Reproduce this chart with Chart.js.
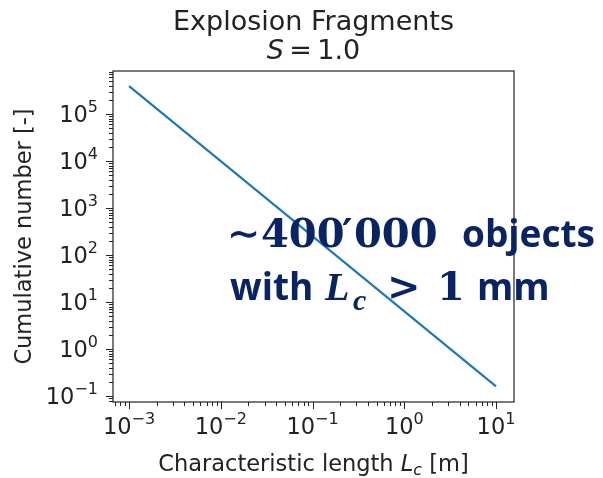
<!DOCTYPE html>
<html>
<head>
<meta charset="utf-8">
<script src="https://cdn.jsdelivr.net/npm/chart.js@4.4.1/dist/chart.umd.min.js"></script>
<style>
  html, body { margin: 0; padding: 0; background: #fff; }
  canvas { display: block; }
</style>
</head>
<body>
<canvas id="chart" width="603" height="478"></canvas>
<script>
// values
const lengths = [1e-3, 10];          // characteristic length Lc [m]
const counts = [3.9e5, 0.16];        // cumulative number [-]
const xTickValues = [1e-3, 1e-2, 1e-1, 1, 10];
const xTickExps = ['−3', '−2', '−1', '0', '1'];
const yTickValues = [1e-1, 1, 10, 100, 1e3, 1e4, 1e5];
const yTickExps = ['−1', '0', '1', '2', '3', '4', '5'];
const xRange = [6.68e-4, 15.7];
const yRange = [0.0745, 8.2e5];

const SANS = '"DejaVu Sans", sans-serif';
const NAVY = '#0a2463';

// draws a row of text pieces, each with its own font and vertical offset
function drawRuns(ctx, runs, x, y) {
  let cx = x;
  runs.forEach(r => {
    ctx.font = r.font;
    ctx.fillText(r.text, cx, y + (r.dy || 0));
    cx += ctx.measureText(r.text).width;
  });
  return cx;
}
function runsWidth(ctx, runs) {
  let w = 0;
  runs.forEach(r => { ctx.font = r.font; w += ctx.measureText(r.text).width; });
  return w;
}

function powerLabel(exp) {
  return [
    { text: '10', font: '22.5px ' + SANS },
    { text: exp, font: '16px ' + SANS, dy: -10 }
  ];
}

const decorations = {
  id: 'decorations',
  afterDraw(chart) {
    const ctx = chart.ctx;
    const a = chart.chartArea;
    const xs = chart.scales.x;
    const ys = chart.scales.y;
    ctx.save();
    ctx.fillStyle = '#222';
    ctx.strokeStyle = '#222';

    // frame
    ctx.lineWidth = 1.2;
    ctx.strokeRect(a.left, a.top, a.right - a.left, a.bottom - a.top);

    // ticks
    ctx.lineWidth = 1;
    for (let d = -4; d <= 6; d++) {
      for (let m = 1; m <= 9; m++) {
        const v = m * Math.pow(10, d);
        const len = m === 1 ? 7 : 4;
        if (v >= xRange[0] && v <= xRange[1]) {
          const px = Math.round(xs.getPixelForValue(v)) + 0.5;
          ctx.beginPath(); ctx.moveTo(px, a.bottom); ctx.lineTo(px, a.bottom + len); ctx.stroke();
        }
        if (v >= yRange[0] && v <= yRange[1]) {
          const py = Math.round(ys.getPixelForValue(v)) + 0.5;
          ctx.beginPath(); ctx.moveTo(a.left, py); ctx.lineTo(a.left - len, py); ctx.stroke();
        }
      }
    }

    // tick labels
    ctx.textBaseline = 'alphabetic';
    ctx.textAlign = 'left';
    xTickValues.forEach((v, i) => {
      const runs = powerLabel(xTickExps[i]);
      const w = runsWidth(ctx, runs);
      drawRuns(ctx, runs, xs.getPixelForValue(v) - w / 2, 434);
    });
    yTickValues.forEach((v, i) => {
      const runs = powerLabel(yTickExps[i]);
      const w = runsWidth(ctx, runs);
      drawRuns(ctx, runs, a.left - 15 - w, ys.getPixelForValue(v) + 8.5);
    });

    // title
    const t1 = [{ text: 'Explosion Fragments', font: '27px ' + SANS }];
    drawRuns(ctx, t1, (a.left + a.right) / 2 - runsWidth(ctx, t1) / 2, 30);
    const t2 = [
      { text: 'S', font: 'italic 27px ' + SANS },
      { text: '\u2009=\u20091.0', font: '27px ' + SANS }
    ];
    drawRuns(ctx, t2, (a.left + a.right) / 2 - runsWidth(ctx, t2) / 2, 59);

    // x axis label
    const xl = [
      { text: 'Characteristic length ', font: '22.5px ' + SANS },
      { text: 'L', font: 'italic 22.5px ' + SANS },
      { text: 'c', font: 'italic 16px ' + SANS, dy: 4 },
      { text: ' [m]', font: '22.5px ' + SANS }
    ];
    drawRuns(ctx, xl, (a.left + a.right) / 2 - runsWidth(ctx, xl) / 2, 471);

    // y axis label
    ctx.save();
    ctx.translate(31, (a.top + a.bottom) / 2);
    ctx.rotate(-Math.PI / 2);
    const yl = [{ text: 'Cumulative number [-]', font: '22.5px ' + SANS }];
    drawRuns(ctx, yl, -runsWidth(ctx, yl) / 2, 0);
    ctx.restore();

    // annotation, pieces placed like the slide's text box
    ctx.fillStyle = NAVY;
    const mathB = 'bold 40px "DejaVu Serif", serif';
    const sansB = 'bold 37px "Open Sans", "Noto Sans", sans-serif';
    const piece = (text, font, x, y) => { ctx.font = font; ctx.fillText(text, x, y); };
    piece('\u223c', mathB, 227, 247);
    piece('400', mathB, 261, 247);
    piece('\u2032', mathB, 342, 247);
    piece('000', mathB, 354, 247);
    piece('objects', sansB, 462, 247);
    piece('with', sansB, 230, 300);
    piece('L', 'italic bold 40px "Liberation Serif", serif', 325, 300);
    piece('c', 'italic bold 30px "Liberation Serif", serif', 353, 310);
    piece('>', mathB, 387, 300);
    piece('1', mathB, 437, 300);
    piece('mm', sansB, 477, 300);

    ctx.restore();
  }
};

new Chart(document.getElementById('chart'), {
  type: 'line',
  data: {
    datasets: [{
      data: lengths.map((x, i) => ({ x: x, y: counts[i] })),
      borderColor: '#1f77b4',
      borderWidth: 2.2,
      pointRadius: 0,
      tension: 0
    }]
  },
  options: {
    responsive: false,
    animation: false,
    devicePixelRatio: 1,
    layout: { padding: { top: 71, right: 89, left: 0, bottom: 0 } },
    plugins: { legend: { display: false }, tooltip: { enabled: false }, title: { display: false } },
    scales: {
      x: {
        type: 'logarithmic',
        min: xRange[0], max: xRange[1],
        grid: { display: false },
        border: { display: false },
        ticks: { display: false },
        afterFit: s => { s.height = 76; }
      },
      y: {
        type: 'logarithmic',
        min: yRange[0], max: yRange[1],
        grid: { display: false },
        border: { display: false },
        ticks: { display: false },
        afterFit: s => { s.width = 113; }
      }
    }
  },
  plugins: [decorations]
});
</script>
</body>
</html>
